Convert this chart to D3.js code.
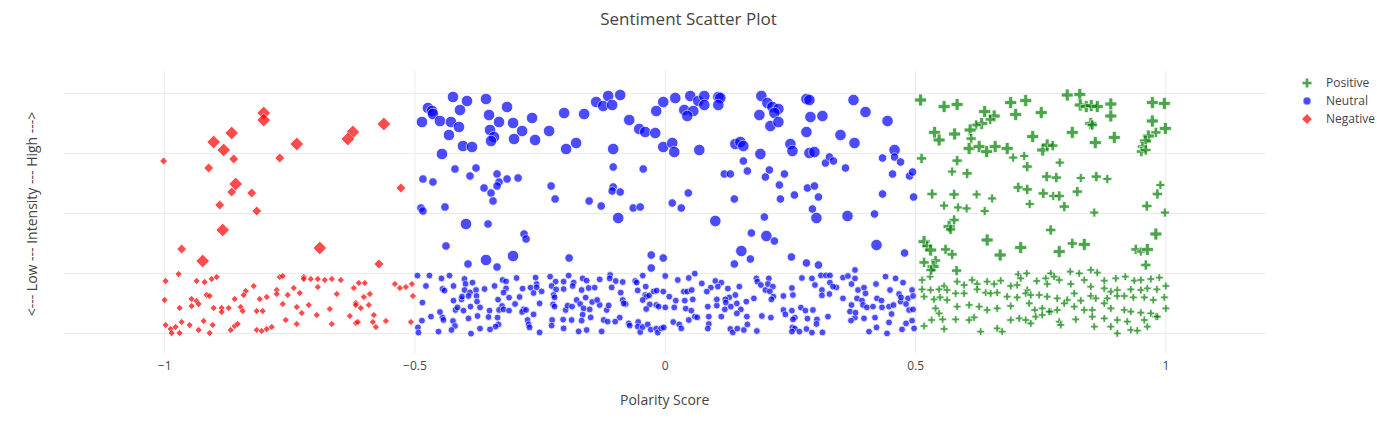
<!DOCTYPE html>
<html><head><meta charset="utf-8">
<script src="https://cdn.jsdelivr.net/npm/d3@7"></script>
<style>
body{margin:0;background:#fff}
svg{display:block}
text{font-family:"Open Sans",verdana,arial,sans-serif;fill:#444}
.grid line{stroke:#ebebeb;stroke-width:1}
.grid path{display:none}
</style>
</head><body>
<svg id="chart" width="1377" height="440"></svg>
<script>
// ---------- data (polarity, intensity, weight class) ----------
const categories = ["Positive", "Neutral", "Negative"];
const xTickValues = [-1, -0.5, 0, 0.5, 1];
const xTickLabels = ["\u22121", "\u22120.5", "0", "0.5", "1"];
const yGridValues = [0, 30, 60, 90, 120];
const chartTitle = "Sentiment Scatter Plot";
const xTitle = "Polarity Score";
const yTitle = "<--- Low --- Intensity --- High --->";

const negativeUpper = [[-0.801,110,3],[-0.801,106.5,3],[-0.865,100,3],[-0.901,95.5,3],[-0.881,91.5,3],[-0.861,87,2],[-1.001,86,1],[-0.911,82.5,2],[-0.769,87.5,2],[-0.735,94.5,3],[-0.623,100.5,3],[-0.633,97,3],[-0.561,104.5,3],[-0.857,74.5,3],[-0.865,70.5,2],[-0.825,70,2],[-0.889,64,2],[-0.815,61,2],[-0.883,51.5,3],[-0.965,42,2],[-0.923,36,3],[-0.689,42.5,3],[-0.571,34.5,2],[-0.527,72.5,2]];
const negativeLower = [[-0.997,26],[-0.971,29.5],[-0.935,26],[-0.919,25.5],[-0.905,27],[-0.895,28],[-0.821,23.5],[-0.769,28],[-0.763,28.5],[-0.721,28],[-0.721,27],[-0.707,27],[-0.693,27],[-0.679,26.5],[-0.665,27],[-0.647,26.5],[-0.611,25],[-0.599,25],[-0.621,22.5],[-0.539,24.5],[-0.529,22.5],[-0.517,23],[-0.505,24.5],[-0.693,23],[-0.741,22.5],[-0.775,21.5],[-0.775,19.5],[-0.753,19],[-0.729,20],[-0.837,21],[-0.841,19],[-0.859,17],[-0.915,19],[-0.909,18.5],[-0.809,17],[-0.795,18],[-0.999,16.5],[-0.945,17],[-0.935,16],[-0.931,14.5],[-0.945,13.5],[-0.969,12.5],[-0.901,12.5],[-0.885,12.5],[-0.885,10.5],[-0.871,12.5],[-0.847,13],[-0.843,11],[-0.815,11],[-0.803,11],[-0.763,14.5],[-0.735,13],[-0.725,10],[-0.711,14],[-0.695,9],[-0.669,12],[-0.655,19.5],[-0.617,15],[-0.617,14],[-0.607,12.5],[-0.601,18],[-0.589,19.5],[-0.591,14],[-0.581,9],[-0.629,8.5],[-0.557,6],[-0.507,5.5],[-0.503,18.5],[-0.757,6.5],[-0.735,4.5],[-0.665,4.5],[-0.617,5],[-0.613,5.5],[-0.583,5.5],[-0.577,3],[-0.921,6],[-0.903,4],[-0.965,5.5],[-0.949,4],[-0.997,4],[-0.987,2],[-0.985,0],[-0.969,0],[-0.931,1.5],[-0.909,0],[-0.867,1.5],[-0.859,3.5],[-0.853,4.5],[-0.815,1.5],[-0.805,1],[-0.795,2],[-0.785,3],[-0.977,3]];

const neutralUpper = [[-0.423,118,3],[-0.395,116,3],[-0.357,117,3],[-0.473,112.5,3],[-0.465,111,3],[-0.463,109.5,3],[-0.409,111.5,3],[-0.315,113,3],[-0.351,109,3],[-0.485,105.5,3],[-0.449,106,3],[-0.427,105.5,3],[-0.411,103,3],[-0.431,99,3],[-0.331,105.5,3],[-0.303,105,3],[-0.265,107.5,3],[-0.285,101,3],[-0.231,101,3],[-0.201,110,3],[-0.161,109.5,3],[-0.137,115.5,3],[-0.123,113.5,3],[-0.113,118.5,3],[-0.105,114,3],[-0.089,119,3],[-0.071,106.5,3],[-0.051,102,3],[-0.039,100.5,3],[-0.019,100,3],[-0.017,111,3],[-0.349,101.5,3],[-0.341,98,3],[-0.347,96,3],[-0.301,97,3],[-0.259,96.5,3],[-0.403,93.5,3],[-0.385,93,3],[-0.445,89.5,3],[-0.197,92,3],[-0.177,95,3],[-0.103,92,3],
[-0.419,82,2],[-0.377,82.5,2],[-0.389,78.5,2],[-0.483,77,2],[-0.463,75.5,2],[-0.335,79.5,2],[-0.331,75.5,2],[-0.335,73.5,2],[-0.315,77,2],[-0.293,77.5,2],[-0.361,72.5,2],[-0.347,70,2],[-0.343,66,2],[-0.227,73.5,2],[-0.219,67,2],[-0.151,66,2],[-0.127,63.5,2],[-0.103,83,2],[-0.103,73,2],[-0.105,71,2],[-0.089,70.5,2],[-0.043,82,2],[-0.063,62.5,2],[-0.049,63,2],[-0.487,62.5,2],[-0.483,61,2],[-0.439,63,2],
[-0.397,54.5,3],[-0.353,54.5,2],[-0.281,49.5,2],[-0.277,47,2],[-0.437,43.5,2],[-0.357,36.5,3],[-0.303,38.5,3],[-0.393,34.5,2],[-0.335,33,2],[-0.191,37.5,2],[-0.093,57.5,3],[-0.027,39,2],[-0.027,32.5,2],
[-0.003,115.5,3],[0.021,117.5,3],[0.051,118.5,3],[0.067,116,3],[0.079,118.5,3],[0.079,114,3],[0.107,118,3],[0.111,117.5,3],[0.107,114,3],[0.039,111.5,3],[0.057,111,3],[0.045,108.5,3],[-0.003,93,3],[0.015,95,3],[0.019,90.5,3],[0.069,91.5,3],[0.193,118.5,3],[0.205,115,3],[0.215,113,3],[0.227,112,3],[0.219,110,3],[0.189,109,3],[0.211,103.5,3],[0.227,105.5,3],[0.283,117,3],[0.289,116.5,3],[0.291,108,3],[0.315,108.5,3],[0.283,100.5,3],[0.377,116.5,3],[0.401,110.5,3],[0.445,106,3],[0.351,99,3],[0.379,95,3],[0.141,94.5,3],[0.151,95.5,3],[0.157,93.5,3],[0.191,89.5,3],[0.251,94.5,3],[0.255,91,3],[0.289,90,3],[0.299,90.5,3],[0.459,91.5,3],
[0.157,86,2],[0.165,81,2],[0.119,79.5,2],[0.131,79.5,2],[0.209,81.5,2],[0.201,78,2],[0.239,79.5,2],[0.229,74,2],[0.231,67,2],[0.259,69,2],[0.285,72.5,2],[0.299,73.5,2],[0.307,68,2],[0.295,62,2],[0.321,85,2],[0.329,88,2],[0.337,86,2],[0.361,82.5,2],[0.435,87.5,2],[0.459,88,2],[0.471,85.5,2],[0.455,79.5,2],[0.489,78.5,2],[0.495,80.5,2],[0.435,69.5,2],[0.497,68,2],[0.047,70,2],[0.015,65,2],[0.033,62.5,2],[0.139,67,2],
[0.101,56,3],[0.199,58,2],[0.303,57.5,3],[0.365,58.5,3],[0.419,59.5,2],[0.173,50,2],[0.203,48.5,3],[0.219,46,2],[0.153,41,3],[0.171,37,2],[0.139,34.5,2],[0.253,38,2],[0.283,35,2],[0.307,34,2],[0.423,44,3],[0.479,40,2],[-0.003,37.5,2]];

const neutralLower = [[-0.494,28.7],[-0.470,28.7],[-0.446,27.3],[-0.430,28.7],[-0.400,27],[-0.384,25.2],[-0.398,24.5],[-0.422,23.5],[-0.444,22],[-0.440,21.2],[-0.400,21.5],[-0.389,20.3],[-0.377,21.5],[-0.360,22],[-0.340,23.5],[-0.324,26.5],[-0.317,25.8],[-0.296,27.5],[-0.317,22.3],[-0.322,20.2],[-0.284,22.2],[-0.268,22.7],[-0.258,27.7],[-0.256,24.5],[-0.256,22.8],[-0.262,20],[-0.246,20.8],[-0.229,28.2],[-0.218,25.7],[-0.226,23.5],[-0.217,21.8],[-0.202,22],[-0.202,25.7],[-0.192,28.7],[-0.182,25.2],[-0.184,23.5],[-0.164,27.3],[-0.156,26.2],[-0.152,22.5],[-0.166,21.5],[-0.140,22.7],[-0.130,26.8],[-0.109,29],[-0.110,27.3],[-0.098,26],[-0.084,25.5],[-0.106,22.8],[-0.088,20.2],[-0.084,16.5],[-0.078,14.5],[-0.059,26],[-0.056,25.2],[-0.044,28.7],[-0.038,23.2],[-0.039,19],[-0.036,18.2],[-0.031,18.8],[-0.022,20.8],[-0.017,14],[-0.054,21.3],[-0.044,16.5],[-0.030,14.3],[-0.037,12],
[-0.484,15.2],[-0.477,23.5],[-0.422,16.2],[-0.406,16.8],[-0.405,18.2],[-0.392,18.5],[-0.376,18.5],[-0.375,15.7],[-0.388,13.2],[-0.402,11.2],[-0.418,11.5],[-0.414,12.8],[-0.369,12.8],[-0.350,11.2],[-0.333,16.7],[-0.311,17.7],[-0.290,18],[-0.299,14.5],[-0.325,13.5],[-0.331,11.5],[-0.322,11.8],[-0.311,11.2],[-0.282,11.8],[-0.285,10.5],[-0.262,9.3],[-0.277,11.5],[-0.250,14.8],[-0.222,19],[-0.220,17.8],[-0.223,14.3],[-0.220,13.2],[-0.198,11.5],[-0.194,13.7],[-0.176,16.5],[-0.169,14.5],[-0.185,13.2],[-0.162,12.3],[-0.150,11.8],[-0.145,15.5],[-0.158,17.7],[-0.130,14],[-0.135,16.5],[-0.116,11.5],[-0.112,13.8],[-0.082,14.8],
[-0.485,6.2],[-0.467,8.2],[-0.444,7.8],[-0.442,6.5],[-0.449,10.5],[-0.423,6],[-0.419,3.5],[-0.392,7.3],[-0.374,8.5],[-0.352,8],[-0.334,7.7],[-0.332,4.3],[-0.338,3.2],[-0.349,1.8],[-0.369,2.2],[-0.387,-0.3],[-0.426,1.5],[-0.452,0.7],[-0.493,2.8],[-0.492,0.2],[-0.274,6.5],[-0.272,4.3],[-0.270,2.8],[-0.250,0.3],[-0.225,6.5],[-0.226,3.7],[-0.203,6.7],[-0.202,2.3],[-0.186,6.5],[-0.164,9.2],[-0.166,6.2],[-0.172,0.8],[-0.156,1.5],[-0.148,7.8],[-0.126,0.8],[-0.122,6.5],[-0.114,5.7],[-0.090,7.7],[-0.099,5.7],[-0.072,4.8],[-0.070,3.7],[-0.053,5.5],[-0.054,3.2],[-0.049,0.5],[-0.044,3],[-0.034,4.3],[-0.028,1.7],[-0.017,2.2],[-0.014,0.2],
[0.001,28.5],[0.026,26.5],[0.048,27.5],[0.060,29.7],[0.074,24.8],[0.101,26],[0.113,25.2],[0.106,23.2],[0.092,22.7],[0.126,22.2],[0.149,23.2],[0.129,17.8],[0.141,19],[0.121,16.8],[0.122,15.2],[0.183,27.3],[0.185,25.7],[0.192,24],[0.201,21.5],[0.208,27.3],[0.206,24.5],[0.216,23.2],[0.210,20.8],[0.217,18.2],[0.213,16.8],[0.237,18.5],[0.254,22.5],[0.256,19],[0.274,27.5],[0.294,27.3],[0.312,28.8],[0.322,28.8],[0.330,28.8],[0.330,25.2],[0.300,24],[0.314,21.5],[0.314,18.8],[0.329,19.5],[0.343,22.8],[0.336,23.2],[0.356,27.7],[0.366,28.5],[0.380,31.5],[0.380,27.3],[0.373,24.5],[0.386,21.5],[0.398,22.7],[0.401,19.8],[0.384,17.3],[0.394,16.2],[0.422,24.5],[0.441,28.2],[0.461,27.3],[0.476,25.2],[0.450,21.5],[0.468,19.5],[0.486,17.3],[0.494,21.5],[0.496,18.5],
[-0.016,21.2],[-0.003,20.7],[0.009,18.2],[0.022,16.2],[0.038,20.7],[0.045,20.7],[0.054,21.5],[-0.012,13.2],[0.001,12.8],[0.019,12.8],[0.040,16.2],[0.056,16.8],[0.042,12.2],[0.053,11.2],[0.084,20.7],[0.086,13.2],[0.104,13.7],[0.104,16.8],[0.120,11.8],[0.132,13.2],[0.144,14.8],[0.163,15.7],[0.178,17.3],[0.152,11.8],[0.144,9.8],[0.164,8.2],[0.194,8.5],[0.212,7.7],[0.237,11.5],[0.241,9.3],[0.254,11.2],[0.260,7.7],[0.256,6.8],[0.272,12.7],[0.281,11.2],[0.296,11.5],[0.285,7.2],[0.304,6.8],[0.326,8.2],[0.356,17.3],[0.373,14],[0.370,10.7],[0.396,14],[0.404,12.8],[0.416,13.2],[0.424,17.3],[0.433,16.2],[0.434,12.8],[0.448,13.2],[0.457,14],[0.471,15.7],[0.472,17.8],[0.482,14.5],[0.488,11.5],[0.496,11.8],[0.453,9.5],[0.420,7.7],[0.398,7.3],[0.380,7.7],[0.381,10.2],
[-0.007,2.3],[-0.002,2.8],[0.017,5.5],[0.029,4.3],[0.033,2.3],[0.048,6.5],[0.060,8.2],[0.065,7.8],[0.088,8.2],[0.088,4.5],[0.086,2.2],[0.113,8.2],[0.131,2],[0.136,0.3],[0.145,2.2],[0.158,1.5],[0.165,4.3],[0.184,1],[0.255,2.8],[0.260,2.2],[0.254,0.7],[0.269,0.7],[0.283,2],[0.294,0.2],[0.303,4.5],[0.315,0.3],[0.372,6.2],[0.408,0.7],[0.423,2.8],[0.444,-0.2],[0.448,5.3],[0.474,1.8],[0.482,4.8],[0.494,6.2],[0.498,2.3]];

const positiveUpper = [[0.511,116.5,3],[0.558,113.2,3],[0.584,114.3,3],[0.639,110.7,3],[0.658,108.5,3],[0.650,106.8,2],[0.633,104.8,3],[0.622,104,2],[0.539,100.3,3],[0.548,96.5,3],[0.579,99.5,3],[0.610,101.5,3],[0.612,97.2,2],[0.608,92.3,3],[0.628,93.2,3],[0.643,90.7,3],[0.660,93.2,3],[0.684,92.3,3],[0.691,115.2,3],[0.721,116.2,3],[0.701,109.3,3],[0.752,110.2,3],[0.735,98.2,3],[0.755,91.5,3],[0.764,94,3],[0.775,93.7,2],[0.804,119,3],[0.829,119.3,3],[0.830,114,3],[0.842,113.2,3],[0.852,113.7,3],[0.864,113.2,3],[0.891,114.5,3],[0.891,108.5,3],[0.851,104.8,3],[0.854,104,2],[0.814,100.3,3],[0.860,95.2,3],[0.898,97.8,3],[0.974,115.2,3],[0.998,114.8,3],[0.974,106,3],[1.000,102.3,3],[0.981,100.3,2],[0.966,98.5,3],[0.960,96,3],[0.954,93.2,2],[0.952,90.7,2],[0.961,91.5,2],[0.513,87.3,2],[0.584,86.2,2],[0.574,80.7,1],[0.604,79.8,2],[0.696,87.7,1],[0.718,88.5,1],[0.724,83.2,2],[0.789,85.2,1],[0.763,78.2,2],[0.782,77.7,2],[0.831,77.5,1],[0.862,78.2,2],[0.884,77,1],[0.706,72.8,2],[0.724,71.8,2],[0.756,69.8,2],[0.776,68.5,1],[0.788,68.5,2],[0.824,70.7,2],[0.729,64.5,1],[0.534,69.5,2],[0.578,69.3,2],[0.623,69.3,1],[0.654,67.3,1],[0.558,63.7,1],[0.586,62.8,1],[0.603,62.3,1],[0.639,61,1],[0.798,63.2,2],[0.990,74,1],[0.984,69.5,2],[0.963,63.5,2],[0.999,60.2,1],[0.858,60.2,1],
[0.578,56.5,2],[0.568,53.2,3],[0.571,51.8,2],[0.771,51.5,2],[0.981,49.5,3],[0.644,46.5,3],[0.518,45.7,3],[0.524,43.5,2],[0.531,41.5,3],[0.561,41.8,2],[0.574,39.3,2],[0.670,39,3],[0.711,42.7,3],[0.788,40.7,3],[0.814,44.8,2],[0.838,44.3,3],[0.941,41.8,2],[0.951,40.7,1],[0.964,41.8,3],[0.961,34,2],[0.518,35.3,2],[0.541,36.2,2],[0.536,33.2,3],[0.532,31.5,2],[0.583,31.2,2]];

const positiveLower = [[0.514,26.5],[0.530,28.2],[0.514,21.8],[0.531,21.5],[0.548,21.8],[0.558,23.5],[0.564,21.5],[0.584,25.7],[0.598,24],[0.614,26.5],[0.624,24.5],[0.644,25.7],[0.658,24.5],[0.671,26.2],[0.691,23.5],[0.706,29.3],[0.723,29.8],[0.711,27.3],[0.704,24],[0.724,21.5],[0.743,26],[0.761,27.3],[0.771,29.8],[0.778,28.2],[0.764,24.5],[0.788,26.5],[0.810,30.7],[0.828,29.8],[0.851,31.5],[0.864,30.2],[0.811,24.5],[0.838,26.5],[0.878,26.2],[0.901,27.3],[0.920,28.2],[0.938,26.2],[0.951,26.5],[0.971,27],[0.988,27.7],[0.851,23.2],[0.878,22.3],[0.891,20.7],[0.904,21.5],[0.931,21.8],[0.951,21.5],[0.964,22.3],[0.983,21.8],[1.001,23.5],
[0.518,18.2],[0.538,16.8],[0.550,17.8],[0.564,16.5],[0.581,19.8],[0.598,19.8],[0.624,21.8],[0.641,20.2],[0.651,19.8],[0.664,20.2],[0.684,18.2],[0.704,17.8],[0.721,19.8],[0.731,19],[0.748,19],[0.764,18.2],[0.784,17.3],[0.804,16.5],[0.818,19.8],[0.831,16.2],[0.851,18.5],[0.861,17.3],[0.884,17.3],[0.904,18.5],[0.918,18.5],[0.936,17.8],[0.958,17.8],[0.976,16.5],[0.998,17.8],
[0.541,12.3],[0.548,9.8],[0.584,13.2],[0.608,14],[0.628,13.2],[0.644,11.5],[0.664,12.3],[0.691,13.5],[0.728,14.8],[0.739,11.5],[0.754,12.3],[0.771,10.7],[0.784,11.5],[0.798,14.8],[0.818,13.2],[0.838,11.5],[0.854,11.5],[0.878,14.8],[0.891,12.3],[0.918,11.5],[0.931,10.7],[0.951,10.2],[0.971,9.8],[1.001,12.3],[0.981,8.2],
[0.518,3.5],[0.533,6.5],[0.555,6.8],[0.558,2],[0.581,6.8],[0.608,6.5],[0.618,7.8],[0.631,0.7],[0.664,2.3],[0.674,0.7],[0.691,6.5],[0.708,7.3],[0.721,6.5],[0.731,4.8],[0.741,8.2],[0.754,9],[0.768,10.7],[0.788,5.7],[0.791,4],[0.821,6.8],[0.854,8.2],[0.858,3.2],[0.878,7.3],[0.891,3.2],[0.904,6.5],[0.904,-0.2],[0.924,5.7],[0.931,1.5],[0.944,1.2],[0.958,6.5],[0.964,3.2],[0.984,8.2]];

// ---------- rendering ----------
const svg = d3.select("#chart");
const W = 1377, H = 440;
const plot = {left: 64, right: 1265.5, top: 71, bottom: 353};

const x = d3.scaleLinear().domain([-1.2, 1.2]).range([plot.left, plot.right]);
const y = d3.scaleLinear().domain([-10, 131]).range([plot.bottom, plot.top]);

svg.append("rect").attr("width", W).attr("height", H).attr("fill", "#fff");

// grid
svg.append("g").attr("class", "grid")
  .attr("transform", `translate(${plot.left},0)`)
  .call(d3.axisLeft(y).tickValues(yGridValues).tickSize(-(plot.right - plot.left)).tickFormat(""));

const xAxis = svg.append("g").attr("class", "grid")
  .attr("transform", `translate(0,${plot.bottom})`)
  .call(d3.axisBottom(x).tickValues(xTickValues)
        .tickSize(-(plot.bottom - plot.top)).tickPadding(8)
        .tickFormat((d, i) => xTickLabels[i]));
xAxis.selectAll("text").attr("font-size", 12).style("fill", "#444")
  .attr("font-family", '"Open Sans",verdana,arial,sans-serif');

// marker shapes (plotly-like)
function crossPath(r) {
  const a = +(r * 0.4).toFixed(2), b = +(r * 1.2).toFixed(2);
  return `M${b},${a}H${a}V${b}H-${a}V${a}H-${b}V-${a}H-${a}V-${b}H${a}V-${a}H${b}Z`;
}
function diamondPath(r) {
  const d = +(r * 1.3).toFixed(2);
  return `M${d},0L0,${d}L-${d},0L0,-${d}Z`;
}
function circlePath(r) {
  return `M${r},0A${r},${r} 0 1,1 0,-${r}A${r},${r} 0 0,1 ${r},0Z`;
}

const series = [
  {name: categories[0], color: "#008000", shape: crossPath,
   upper: positiveUpper, lower: positiveLower, size: d3.scaleOrdinal([0,1,2,3],[6.5,7.5,8.5,10])},
  {name: categories[1], color: "#0000ff", shape: circlePath,
   upper: neutralUpper, lower: neutralLower, size: d3.scaleOrdinal([0,1,2,3],[6.8,7.5,8.5,11.5])},
  {name: categories[2], color: "#ff0000", shape: diamondPath,
   upper: negativeUpper, lower: negativeLower, size: d3.scaleOrdinal([0,1,2,3],[5.5,6,7.5,10.5])}
];

svg.append("defs").append("clipPath").attr("id", "plotclip")
  .append("rect").attr("x", plot.left).attr("y", plot.top)
  .attr("width", plot.right - plot.left).attr("height", plot.bottom - plot.top);

const pts = svg.append("g").attr("clip-path", "url(#plotclip)");
series.forEach(s => {
  const data = s.lower.map(d => [d[0], d[1], 0]).concat(s.upper);
  pts.append("g").selectAll("path").data(data).join("path")
    .attr("transform", d => `translate(${x(d[0])},${y(d[1])})`)
    .attr("d", d => s.shape(s.size(d[2]) / 2))
    .attr("fill", s.color)
    .attr("stroke", "#fff").attr("stroke-width", 0.8)
    .attr("opacity", 0.7);
});

// legend
const legend = svg.append("g");
series.forEach((s, i) => {
  const g = legend.append("g").attr("transform", `translate(1307,${83 + i * 18})`);
  g.append("path").attr("d", s.shape(4)).attr("fill", s.color)
    .attr("stroke", "#fff").attr("stroke-width", 0.5).attr("opacity", 0.7);
  g.append("text").attr("x", 19).attr("dy", "0.35em").attr("font-size", 12).text(s.name);
});

// titles
svg.append("text").attr("x", W / 2).attr("y", 25).attr("text-anchor", "middle")
  .attr("font-size", 17).text(chartTitle);
svg.append("text").attr("x", (plot.left + plot.right) / 2).attr("y", 405)
  .attr("text-anchor", "middle").attr("font-size", 14).text(xTitle);
svg.append("text").attr("transform", "translate(37,214) rotate(-90)")
  .attr("text-anchor", "middle").attr("font-size", 14).text(yTitle);
</script>
</body></html>
